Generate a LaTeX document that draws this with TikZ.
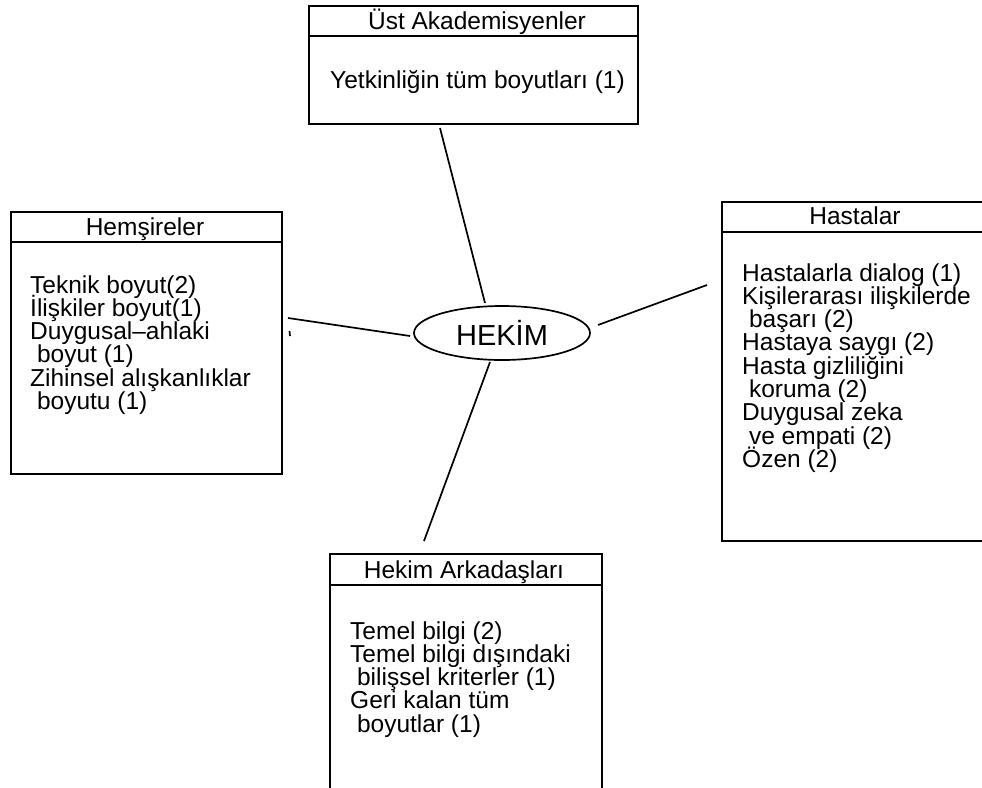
\documentclass[tikz,border=0pt]{standalone}
\usepackage{fontspec}
\setmainfont{Liberation Sans}
\usetikzlibrary{shapes.geometric}
% body text: fixed line pitch regardless of accents
\newcommand\bodytextfont{\fontsize{24.5}{23.3}\selectfont\lineskiplimit=-100pt\relax\lineskip=0pt\relax}
\begin{document}
\begin{tikzpicture}[x=1pt,y=-1pt,
  box/.style={draw, line width=1.7pt},
  head/.style={font=\fontsize{24.5}{24}\selectfont, inner sep=0, anchor=base},
  % multi-line bodies are placed by the baseline of their last line
  body/.style={font=\bodytextfont, align=left, anchor=base west, inner sep=0},
  link/.style={line width=1.7pt}]
\useasboundingbox (0,0) rectangle (982,787);
\clip (0,0) rectangle (982,787);
\fill[white] (0,0) rectangle (982,787);

% Üst Akademisyenler
\draw[box] (309,6) rectangle (638,124);
\draw[box] (309,36) -- (638,36);
\node[head] (ust) at (477,29) {Üst Akademisyenler};
\node[body] (ustbody) at (330,88) {Yetkinliğin tüm boyutları (1)};

% Hemşireler
\draw[box] (11,212) rectangle (282,474);
\draw[box] (11,242) -- (282,242);
\node[head] (hem) at (145,235) {Hemşireler};
\node[body] (hembody) at (30,409.5) {Teknik boyut(2)\\İlişkiler boyut(1)\\Duygusal--ahlaki\\\hspace*{.28em}boyut (1)\\Zihinsel alışkanlıklar\\\hspace*{.28em}boyutu (1)};

% Hastalar
\draw[box] (722,202) rectangle (995,541);
\draw[box] (722,232) -- (995,232);
\node[head] (has) at (855,224) {Hastalar};
\node[body] (hasbody) at (742,467.4) {Hastalarla dialog (1)\\Kişilerarası ilişkilerde\\\hspace*{.28em}başarı (2)\\Hastaya saygı (2)\\Hasta gizliliğini\\\hspace*{.28em}koruma (2)\\Duygusal zeka\\\hspace*{.28em}ve empati (2)\\Özen (2)};

% Hekim Arkadaşları
\draw[box] (330,554) rectangle (602,800);
\draw[box] (330,585) -- (602,585);
\node[head] (ark) at (464,578) {Hekim Arkadaşları};
\node[body] (arkbody) at (350,732.2) {Temel bilgi (2)\\Temel bilgi dışındaki\\\hspace*{.28em}bilişsel kriterler (1)\\Geri kalan tüm\\\hspace*{.28em}boyutlar (1)};

% Central ellipse
\node[draw, ellipse, line width=1.7pt, minimum width=176pt, minimum height=54pt, inner sep=0,
      font=\fontsize{29}{29}\selectfont] (hekim) at (502,333) {HEKİM};

% Connector end points
\coordinate (hN) at (485,303);
\coordinate (hW) at (410,336);
\coordinate (hE) at (598,325);
\coordinate (hS) at (490,362);
\coordinate (uN) at (440,128);
\coordinate (uW) at (288,318);
\coordinate (uE) at (707,285);
\coordinate (uS) at (424,541);

\draw[link] (uN) -- (hN);
\draw[link] (uW) -- (hW);
\draw[link] (hE) -- (uE);
\draw[link] (hS) -- (uS);

% small tick beside the left connector
\draw[line width=1.7pt] (289.5,331) -- (290,336);
\end{tikzpicture}
\end{document}
